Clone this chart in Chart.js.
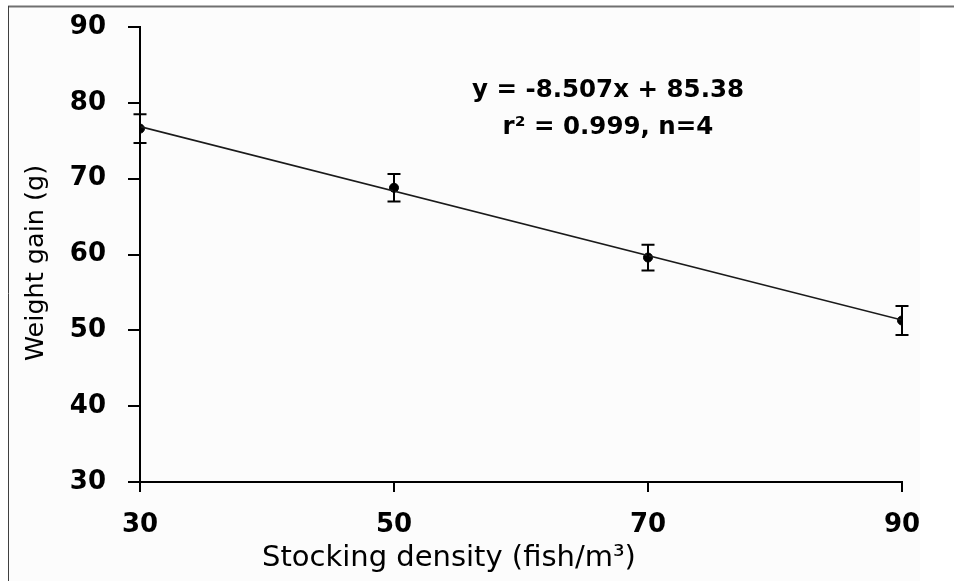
<!DOCTYPE html>
<html>
<head>
<meta charset="utf-8">
<script src="https://cdn.jsdelivr.net/npm/chart.js@4/dist/chart.umd.min.js"></script>
<style>
  html, body { margin: 0; padding: 0; background: #ffffff; }
  #wrap { width: 954px; height: 581px; }
</style>
</head>
<body>
<div id="wrap"><canvas id="c" width="954" height="581"></canvas></div>
<script>
// ---- data ----
const density = [30, 50, 70, 90];                 // stocking density (fish/m3)
const weightGain = [76.6, 68.8, 59.6, 51.3];      // weight gain (g)
const errorSD = [1.9, 1.8, 1.7, 1.9];             // error bar half-length (g)
const trendX = [30, 90];                          // trend line endpoints (x)
const trendY = [76.87, 51.35];                    // from y = -8.507x + 85.38 (x = 1..4)
const xTicks = [30, 50, 70, 90];
const yTicks = [30, 40, 50, 60, 70, 80, 90];
const xTitle = 'Stocking density (fish/m³)';
const yTitle = 'Weight gain (g)';
const eqLines = ['y = -8.507x + 85.38', 'r² = 0.999, n=4'];

const points = density.map((d, i) => ({ x: d, y: weightGain[i] }));
const trend = trendX.map((d, i) => ({ x: d, y: trendY[i] }));

const framePlugin = {
  id: 'frame',
  beforeDraw(chart) {
    const ctx = chart.ctx;
    ctx.save();
    ctx.fillStyle = '#ffffff';
    ctx.fillRect(0, 0, chart.width, chart.height);
    ctx.fillStyle = '#fcfcfc';
    ctx.fillRect(9, 8, 911, chart.height - 8);
    ctx.strokeStyle = '#707070';
    ctx.lineWidth = 2;
    ctx.beginPath(); ctx.moveTo(8, 6.5); ctx.lineTo(chart.width, 6.5); ctx.stroke();
    ctx.strokeStyle = '#404040';
    ctx.lineWidth = 1;
    ctx.beginPath(); ctx.moveTo(8.5, 6); ctx.lineTo(8.5, chart.height); ctx.stroke();
    ctx.restore();
  }
};

const errorBarPlugin = {
  id: 'errorBars',
  afterDatasetsDraw(chart) {
    const ctx = chart.ctx;
    const xs = chart.scales.x, ys = chart.scales.y;
    ctx.save();
    ctx.strokeStyle = '#000';
    ctx.lineWidth = 2;
    density.forEach((d, i) => {
      const px = xs.getPixelForValue(d);
      const top = ys.getPixelForValue(weightGain[i] + errorSD[i]);
      const bot = ys.getPixelForValue(weightGain[i] - errorSD[i]);
      ctx.beginPath();
      ctx.moveTo(px, top); ctx.lineTo(px, bot);
      ctx.moveTo(px - 6.5, top); ctx.lineTo(px + 6.5, top);
      ctx.moveTo(px - 6.5, bot); ctx.lineTo(px + 6.5, bot);
      ctx.stroke();
    });
    ctx.restore();
  }
};

const textPlugin = {
  id: 'texts',
  afterDraw(chart) {
    const ctx = chart.ctx;
    const xs = chart.scales.x, ys = chart.scales.y;
    ctx.save();
    ctx.fillStyle = '#000';
    // equation
    ctx.font = 'bold 24.5px "DejaVu Sans"';
    ctx.textAlign = 'center';
    ctx.textBaseline = 'middle';
    const ex = xs.getPixelForValue(66.85);
    ctx.fillText(eqLines[0], ex, ys.getPixelForValue(81.65));
    ctx.fillText(eqLines[1], ex, ys.getPixelForValue(76.75));
    // x axis title
    ctx.font = '29px "DejaVu Sans"';
    ctx.textAlign = 'left';
    ctx.fillText(xTitle, 262, 558);
    // y axis title
    ctx.font = '25.5px "DejaVu Sans"';
    ctx.translate(36, 263);
    ctx.rotate(-Math.PI / 2);
    ctx.textAlign = 'center';
    ctx.fillText(yTitle, 0, 0);
    ctx.restore();
  }
};

new Chart(document.getElementById('c'), {
  type: 'scatter',
  data: {
    datasets: [
      {
        type: 'line',
        data: trend,
        borderColor: '#1a1a1a',
        borderWidth: 1.6,
        pointRadius: 0,
        fill: false,
        tension: 0
      },
      {
        data: points,
        backgroundColor: '#000',
        borderColor: '#000',
        pointRadius: 4.5,
        pointHoverRadius: 4.5
      }
    ]
  },
  options: {
    responsive: false,
    animation: false,
    events: [],
    layout: { padding: { left: 0, right: 52, top: 27, bottom: 0 } },
    plugins: { legend: { display: false }, tooltip: { enabled: false } },
    scales: {
      x: {
        type: 'linear',
        min: 30, max: 90,
        afterFit(s) { s.height = 99; s.paddingLeft = 0; s.paddingRight = 0; },
        afterBuildTicks(s) { s.ticks = xTicks.map(v => ({ value: v })); },
        grid: { drawOnChartArea: false, drawTicks: true, tickLength: 10, color: '#000', lineWidth: 2 },
        border: { display: true, color: '#000', width: 2 },
        ticks: { color: '#000', font: { family: 'DejaVu Sans', size: 26, weight: 'bold' }, padding: 18, maxRotation: 0 }
      },
      y: {
        type: 'linear',
        min: 30, max: 90,
        afterFit(s) { s.width = 140; s.paddingTop = 0; s.paddingBottom = 0; },
        afterBuildTicks(s) { s.ticks = yTicks.map(v => ({ value: v })); },
        grid: { drawOnChartArea: false, drawTicks: true, tickLength: 12, color: '#000', lineWidth: 2 },
        border: { display: true, color: '#000', width: 2 },
        ticks: { color: '#000', font: { family: 'DejaVu Sans', size: 26, weight: 'bold' }, padding: 22 }
      }
    }
  },
  plugins: [framePlugin, errorBarPlugin, textPlugin]
});
</script>
</body>
</html>
